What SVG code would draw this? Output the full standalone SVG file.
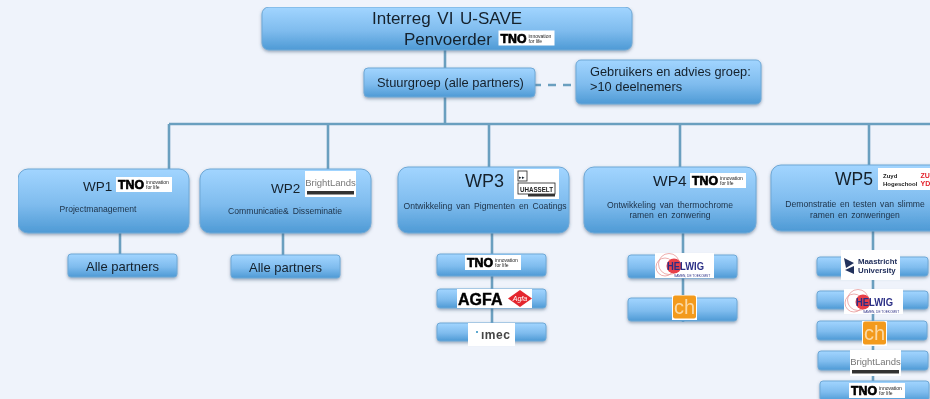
<svg xmlns="http://www.w3.org/2000/svg" xmlns:xlink="http://www.w3.org/1999/xlink" width="930" height="399" viewBox="0 0 930 399">
<style>
text{font-family:"Liberation Sans",Arial,sans-serif;fill:#14202c}
.b{fill:url(#g);stroke:#6ea8d6;stroke-width:1;filter:url(#s)}
.c{fill:none;stroke:#6b9fbf;stroke-width:2.6}
.sm{font-size:8.6px;fill:#1c3046;text-anchor:middle;word-spacing:1.6px}
.wh{fill:#fff}
</style>
<defs>
<linearGradient id="g" x1="0" y1="0" x2="0" y2="1"><stop offset="0" stop-color="#a2d5ff"/><stop offset="0.55" stop-color="#7fbcee"/><stop offset="1" stop-color="#4e9ad5"/></linearGradient>
<filter id="s" x="-10%" y="-20%" width="120%" height="150%"><feDropShadow dx="0" dy="1.5" stdDeviation="1.5" flood-color="#3a5a78" flood-opacity="0.5"/></filter>
<filter id="soft" x="0" y="0" width="100%" height="100%"><feGaussianBlur stdDeviation="0.4"/></filter>
<g id="tno"><rect class="wh" width="56" height="15"/><text x="2" y="12" style="font-size:13px;font-weight:bold;fill:#000;stroke:#000;stroke-width:.7" textLength="26" lengthAdjust="spacingAndGlyphs">TNO</text><text x="30" y="7" style="font-size:5px;fill:#222">innovation</text><text x="30" y="12" style="font-size:5px;fill:#222">for life</text></g>
<g id="bright"><rect class="wh" width="51" height="26"/><text x="25.500" y="15" text-anchor="middle" style="font-size:9.500px;fill:#777">BrightLands</text><rect x="2" y="20" width="47" height="3.500" fill="#333"/></g>
<g id="helwig"><rect class="wh" width="59" height="25"/><circle cx="14" cy="11" r="10.500" fill="none" stroke="#e58a8a" stroke-width=".7"/><circle cx="10" cy="14" r="9" fill="none" stroke="#e58a8a" stroke-width=".7"/><circle cx="19" cy="13" r="7.500" fill="#e8404a"/><text x="12" y="17" style="font-size:11px;font-weight:bold;fill:#2b2f86" textLength="37" lengthAdjust="spacingAndGlyphs">HELWIG</text><text x="19" y="23.500" style="font-size:3.200px;fill:#2b2f86">SAMEN, DE TOEKOMST</text></g>
<g id="ch"><rect class="wh" width="25" height="25"/><rect x="1" y="0.500" width="23" height="23" rx="2" fill="#f39a1e"/><text x="12.500" y="19" text-anchor="middle" style="font-size:20px;fill:#fbd9a4">ch</text></g>
</defs>
<rect width="930" height="399" fill="#eff3fb"/>
<g filter="url(#soft)">
<g id="connectors">
<path class="c" d="M445 50V124M169 124H930M169 124V169M328 124V169M489 124V167M680 124V167M869 124V165"/>
<path class="c" d="M535 85H573" stroke-dasharray="6 7 8 7 8"/>
<path class="c" d="M120 233V254M283 233V255M492 233V345M683 233V322M873 231V399"/>
</g>
<g id="top"><rect class="b" x="262" y="7" width="370" height="43" rx="7"/><text x="372" y="24" style="font-size:17px" word-spacing="2">Interreg VI U-SAVE</text><text x="404" y="45" style="font-size:17px">Penvoerder</text><use xlink:href="#tno" href="#tno" x="498.500" y="30.500"/></g>
<g id="stuurgroep"><rect class="b" x="364" y="68" width="171" height="29" rx="4"/><text x="377" y="87" style="font-size:12.900px">Stuurgroep (alle partners)</text></g>
<g id="gebruikers"><rect class="b" x="576" y="60" width="185" height="44" rx="5"/><text x="590" y="76" style="font-size:12.800px">Gebruikers en advies groep:</text><text x="590" y="91" style="font-size:12.800px">&gt;10 deelnemers</text></g>
<g id="wp1"><rect class="b" x="18" y="169" width="171" height="64" rx="10"/><text x="83" y="191" style="font-size:13.500px">WP1</text><use xlink:href="#tno" href="#tno" x="116" y="177"/><text class="sm" x="98" y="212">Projectmanagement</text></g>
<g id="wp2"><rect class="b" x="200" y="169" width="171" height="64" rx="10"/><text x="271" y="193" style="font-size:13.500px">WP2</text><use xlink:href="#bright" href="#bright" x="305" y="171"/><text class="sm" x="285" y="214">Communicatie&amp; Disseminatie</text></g>
<g id="wp3"><rect class="b" x="398" y="167" width="171" height="66" rx="10"/><text x="465" y="187" style="font-size:18px">WP3</text><g><rect class="wh" x="514" y="169" width="45" height="30"/><rect x="518" y="171" width="9" height="10" fill="none" stroke="#222" stroke-width=".8"/><text x="519" y="179" style="font-size:5px">▸▸</text><rect x="518" y="183" width="37" height="11" fill="none" stroke="#222" stroke-width=".8"/><text x="536.500" y="191.500" text-anchor="middle" style="font-size:7px;font-weight:bold;fill:#222" textLength="33" lengthAdjust="spacingAndGlyphs">UHASSELT</text><rect x="528" y="194" width="27" height="2.500" fill="#333"/></g><text class="sm" x="485" y="209">Ontwikkeling van Pigmenten en Coatings</text></g>
<g id="wp4"><rect class="b" x="584" y="167" width="172" height="66" rx="10"/><text x="653" y="186" style="font-size:15.500px">WP4</text><use xlink:href="#tno" href="#tno" x="690" y="173"/><text class="sm" x="670" y="208">Ontwikkeling van thermochrome</text><text class="sm" x="670" y="218">ramen en zonwering</text></g>
<g id="wp5"><rect class="b" x="771" y="165" width="175" height="66" rx="10"/><text x="835" y="185" style="font-size:17.500px">WP5</text><rect class="wh" x="878" y="168" width="52" height="22"/><text x="883" y="178" style="font-size:6px;font-weight:bold;fill:#222">Zuyd</text><text x="883" y="186" style="font-size:6px;font-weight:bold;fill:#222">Hogeschool</text><text x="920.500" y="178" style="font-size:7px;font-weight:bold;fill:#e3222b">ZU</text><text x="920.500" y="186" style="font-size:7px;font-weight:bold;fill:#e3222b">YD</text><text class="sm" x="855" y="207" style="word-spacing:1.200px">Demonstratie en testen van slimme</text><text class="sm" x="855" y="218" style="word-spacing:1.200px">ramen en zonweringen</text></g>
<g id="alle1"><rect class="b" x="68" y="254" width="109" height="23" rx="3"/><text x="86" y="271" style="font-size:13px">Alle partners</text></g>
<g id="alle2"><rect class="b" x="231" y="255" width="109" height="23" rx="3"/><text x="249" y="272" style="font-size:13px">Alle partners</text></g>
<g id="wp3-tno"><rect class="b" x="437" y="254" width="109" height="22" rx="3"/><use xlink:href="#tno" href="#tno" x="465" y="255"/></g>
<g id="wp3-agfa"><rect class="b" x="437" y="289" width="109" height="19" rx="3"/><rect class="wh" x="457" y="289" width="75" height="19"/><text x="458" y="305" style="font-size:16px;font-weight:bold;fill:#000;stroke:#000;stroke-width:.4">AGFA</text><path d="M508 298.500L520 290L532 298.500L520 307Z" fill="#e4282e"/><text x="520" y="301" text-anchor="middle" style="font-size:7px;font-style:italic;fill:#fff">Agfa</text></g>
<g id="wp3-imec"><rect class="b" x="437" y="323" width="109" height="18" rx="3"/><rect class="wh" x="468" y="323" width="47" height="23"/><text x="481" y="339" style="font-size:12px;fill:#444;font-weight:bold" letter-spacing=".5">ımec</text><circle cx="477" cy="332" r="1" fill="#2a8cc0"/></g>
<g id="wp4-helwig"><rect class="b" x="628" y="255" width="109" height="23" rx="3"/><use xlink:href="#helwig" href="#helwig" x="655" y="253"/></g>
<g id="wp4-ch"><rect class="b" x="628" y="298" width="109" height="23" rx="3"/><use xlink:href="#ch" href="#ch" x="672" y="295"/></g>
<g id="wp5-maastricht"><rect class="b" x="817" y="257" width="111" height="19" rx="3"/><rect class="wh" x="841" y="250" width="59" height="30"/><path d="M844 258L854 263L846 268ZM854 266L845 270L854 274Z" fill="#22305c"/><text x="858" y="264" style="font-size:7.800px;font-weight:bold;fill:#22305c">Maastricht</text><text x="858" y="273" style="font-size:7.800px;font-weight:bold;fill:#22305c">University</text></g>
<g id="wp5-helwig"><rect class="b" x="817" y="291" width="111" height="18" rx="3"/><use xlink:href="#helwig" href="#helwig" x="844" y="289"/></g>
<g id="wp5-ch"><rect class="b" x="817" y="321" width="110" height="19" rx="3"/><use xlink:href="#ch" href="#ch" x="862" y="321"/></g>
<g id="wp5-bright"><rect class="b" x="818" y="351" width="110" height="19" rx="3"/><use xlink:href="#bright" href="#bright" x="850" y="350"/></g>
<g id="wp5-tno"><rect class="b" x="820" y="381" width="109" height="20" rx="3"/><use xlink:href="#tno" href="#tno" x="849" y="383"/></g>
</g>
</svg>
